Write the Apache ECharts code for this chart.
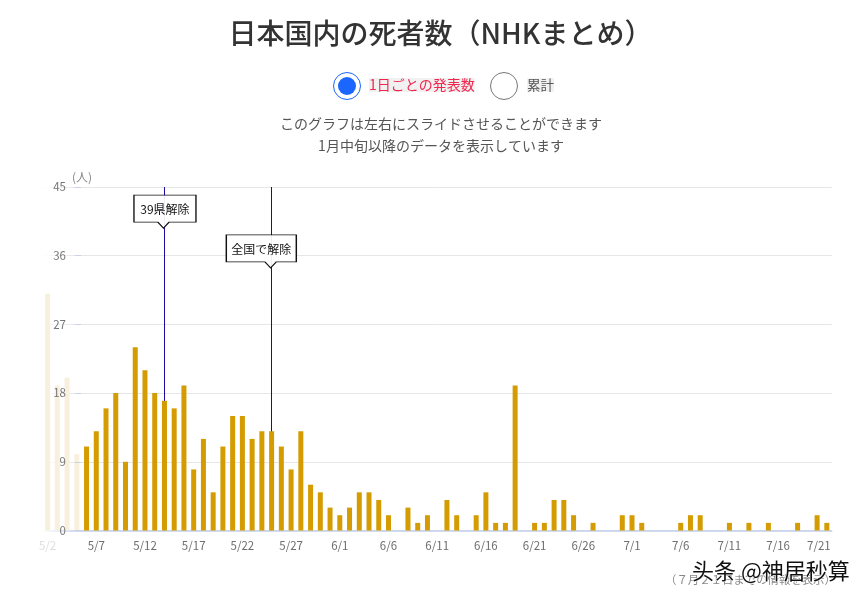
<!DOCTYPE html>
<html>
<head>
<meta charset="utf-8">
<title>日本国内の死者数</title>
<style>
  body { margin: 0; background: #fff; }
  #main { width: 868px; height: 598px; }
</style>
</head>
<body>
<div id="main"></div>
<script src="https://cdn.jsdelivr.net/npm/echarts@6/dist/echarts.min.js"></script>
<script>
var days = [
  '5/2','5/3','5/4','5/5','5/6','5/7','5/8','5/9','5/10','5/11','5/12','5/13','5/14','5/15','5/16',
  '5/17','5/18','5/19','5/20','5/21','5/22','5/23','5/24','5/25','5/26','5/27','5/28','5/29','5/30','5/31',
  '6/1','6/2','6/3','6/4','6/5','6/6','6/7','6/8','6/9','6/10','6/11','6/12','6/13','6/14','6/15',
  '6/16','6/17','6/18','6/19','6/20','6/21','6/22','6/23','6/24','6/25','6/26','6/27','6/28','6/29','6/30',
  '7/1','7/2','7/3','7/4','7/5','7/6','7/7','7/8','7/9','7/10','7/11','7/12','7/13','7/14','7/15',
  '7/16','7/17','7/18','7/19','7/20','7/21'
];
var deaths = [
  31,19,20,10,11,13,16,18,9,24,21,18,17,16,19,
  8,12,5,11,15,15,12,13,13,11,8,13,6,5,3,
  2,3,5,5,4,2,0,3,1,2,0,4,2,0,2,
  5,1,1,19,0,1,1,4,4,2,0,1,0,0,2,
  2,1,0,0,0,1,2,2,0,0,1,0,1,0,1,
  0,0,1,0,2,1
];
var fadedDays = ['5/2','5/3','5/4','5/5'];
var events = [
  { day: '5/14', name: '39県解除', tipValue: 39.6 },
  { day: '5/25', name: '全国で解除', tipValue: 34.4 }
];
var yTicks = { min: 0, max: 45, step: 9 };

var jpFont = '"Noto Sans CJK JP", sans-serif';

// 左端はスライド表示のフェード
function fadeLine(color) {
  return {
    type: 'linear', x: 42, y: 0, x2: 76, y2: 0, global: true,
    colorStops: [{ offset: 0, color: '#ffffff' }, { offset: 1, color: color }]
  };
}

var myChart = echarts.init(document.getElementById('main'), null, { renderer: 'canvas' });

var option = {
  animation: false,
  backgroundColor: '#fff',
  textStyle: { fontFamily: jpFont },
  title: {
    text: '日本国内の死者数（NHKまとめ）',
    left: 435.5, top: 14, textAlign: 'center',
    textStyle: { fontFamily: jpFont, fontSize: 28, fontWeight: 500, color: '#333' }
  },
  grid: { left: 42.7, right: 36.3, top: 187, bottom: 67.5 },
  xAxis: {
    type: 'category',
    z: 2,
    data: days,
    axisLine: { lineStyle: { color: fadeLine('#c2cfea'), width: 1.5 } },
    axisTick: { show: false },
    axisLabel: {
      interval: 4, margin: 9, fontSize: 11.5, color: '#6e6e6e',
      formatter: function (value) {
        if (value === '5/2') return '{first|' + value + '}';
        if (value === '7/21') return '{last|' + value + '}';
        return value;
      },
      rich: {
        first: { color: '#dedede', fontSize: 11.5 },
        last: { color: '#6e6e6e', fontSize: 11.5, padding: [0, 16, 0, 0] }
      }
    }
  },
  yAxis: [
    {
      // グリッド線だけの軸（棒の下）
      type: 'value', min: yTicks.min, max: yTicks.max, interval: yTicks.step,
      axisLine: { show: false },
      axisTick: { show: false },
      axisLabel: { show: false },
      splitLine: { lineStyle: { color: fadeLine('#e6e6e6'), width: 1 } }
    },
    {
      // 目盛りと数字の軸（棒の上）
      type: 'value', position: 'left', offset: -32.3, z: 5,
      min: yTicks.min, max: yTicks.max, interval: yTicks.step,
      name: '(人)', nameLocation: 'end', nameGap: 4,
      nameTextStyle: { fontSize: 12, color: '#888', align: 'left', padding: [0, 0, 0, -3] },
      axisLine: { show: false },
      axisTick: { show: true, inside: true, length: 6, lineStyle: { color: '#c6d2ea' } },
      axisLabel: { margin: 9, fontSize: 11.5, color: '#777', padding: [2, 0, 0, 0] },
      splitLine: { show: false }
    }
  ],
  series: [
    {
      name: '死者数',
      type: 'bar',
      z: 3,
      barWidth: 5,
      data: deaths.map(function (v, i) {
        var faded = fadedDays.indexOf(days[i]) >= 0;
        return { value: v, itemStyle: { color: faded ? '#f8f0dc' : '#d49c00' } };
      }),
      markLine: {
        silent: true, z: 1, symbol: 'none',
        label: { show: false },
        lineStyle: { color: '#1a0a9e', type: 'solid', width: 1 },
        data: events.map(function (e) { return { xAxis: e.day }; })
      },
      markPoint: {
        silent: true, z: 6,
        itemStyle: { color: 'rgba(255,255,255,0.93)', borderColor: '#111', borderWidth: 1 },
        label: { show: true, position: 'inside', offset: [0, -2], color: '#111', fontSize: 12, fontFamily: jpFont },
        data: [
          {
            coord: [events[0].day, events[0].tipValue], value: events[0].name,
            symbol: 'path://M0 0H62V27H35L29.5 33L24 27H0Z',
            symbolSize: [62, 33], symbolOffset: [0.5, -16.5]
          },
          {
            coord: [events[1].day, events[1].tipValue], value: events[1].name,
            symbol: 'path://M0 0H70V27H50L44.3 33L38.6 27H0Z',
            symbolSize: [70, 33], symbolOffset: [-10.3, -16.5]
          }
        ]
      }
    }
  ],
  graphic: [
    { type: 'circle', shape: { cx: 347, cy: 86, r: 13.5 }, style: { fill: '#fff', stroke: '#1a66ff', lineWidth: 1 } },
    { type: 'circle', shape: { cx: 347, cy: 86, r: 9 }, style: { fill: '#1a66ff' } },
    { type: 'text', x: 369, y: 85, style: { text: '1日ごとの発表数', font: '14px ' + jpFont, fill: '#f0264f', verticalAlign: 'middle', backgroundColor: '#f1f1f1' } },
    { type: 'circle', shape: { cx: 504, cy: 86, r: 13.5 }, style: { fill: '#fff', stroke: '#777', lineWidth: 1 } },
    { type: 'text', x: 527, y: 85, style: { text: '累計', font: '13.5px ' + jpFont, fill: '#555', verticalAlign: 'middle', backgroundColor: '#f1f1f1' } },
    { type: 'text', x: 441, y: 124, style: { text: 'このグラフは左右にスライドさせることができます', font: '14px ' + jpFont, fill: '#555', align: 'center', verticalAlign: 'middle' } },
    { type: 'text', x: 441, y: 146, style: { text: '1月中旬以降のデータを表示しています', font: '14px ' + jpFont, fill: '#555', align: 'center', verticalAlign: 'middle' } },
    { type: 'text', x: 665, y: 580, style: { text: '（７月２１日までの情報を表示）', font: '11.4px ' + jpFont, fill: '#888', verticalAlign: 'middle' } },
    { type: 'text', x: 692, y: 571, z: 100, style: { text: '头条 @神居秒算', font: '22px "Noto Sans CJK SC", sans-serif', fill: '#111', stroke: '#fff', lineWidth: 1, verticalAlign: 'middle' } }
  ]
};

myChart.setOption(option);
</script>
</body>
</html>
